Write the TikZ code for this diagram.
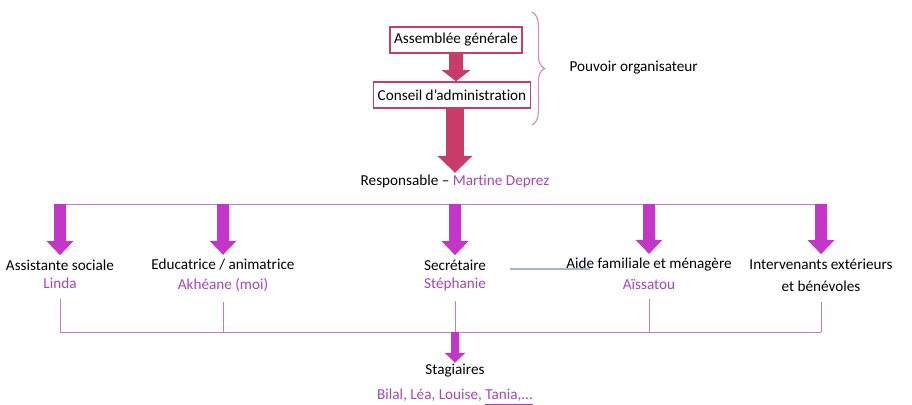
\documentclass[tikz,border=0pt]{standalone}
\usepackage{fontspec}
\setmainfont[Ligatures=NoCommon]{Carlito}
\usepackage{tikz}
\usetikzlibrary{positioning,arrows.meta,decorations.pathreplacing}
\definecolor{rouge}{HTML}{C83C6A}
\definecolor{mauve}{HTML}{C436C8}
\definecolor{violet}{HTML}{A844BC}
\definecolor{trait}{HTML}{C27BC8}
\definecolor{gris}{HTML}{A9B8C8}
\tikzset{
  cadre/.style={draw=rouge, line width=1.2pt, fill=white, inner sep=3pt, minimum height=0.64cm, font=\fontsize{10.8}{13}\selectfont},
  texte/.style={align=center, inner sep=1pt, font=\fontsize{10.8}{13}\selectfont},
  nom/.style={texte, text=violet},
  grosse/.style={rouge, line width=10pt, -{Triangle[length=8pt,width=20pt]}},
  tresgrosse/.style={rouge, line width=12.5pt, -{Triangle[length=12pt,width=24pt]}},
  fleche/.style={mauve, line width=8.5pt, -{Triangle[length=10pt,width=18.5pt]}},
  petite/.style={mauve, line width=5.5pt, -{Triangle[length=7pt,width=14pt]}},
  filet/.style={trait, line width=0.6pt},
}

\begin{document}
\begin{tikzpicture}[x=0.025cm, y=-0.025cm]
  \useasboundingbox (0,0) rectangle (912,404);
  % pouvoir organisateur
  \node[cadre] (ag) at (456,40) {Assemblée générale};
  \node[cadre] (ca) at (452,95) {Conseil d’administration};
  \draw[grosse] (ag.south) -- (ag.south |- ca.north);
  \draw[decorate, decoration={brace, amplitude=9pt}, draw=rouge!60, line width=0.8pt] (532,12) -- coordinate (pointe) (532,125);
  \node[texte, anchor=west] (pouvoir) at (568,68) {Pouvoir organisateur};
  \node[texte] (resp) at (455,181) {Responsable -- \textcolor{violet}{Martine Deprez}};
  \draw[tresgrosse] (resp.north |- ca.south) -- (resp.north);
  % equipe
  \coordinate (g) at (57,204);
  \coordinate (d) at (822,204);
  \draw[filet] (g) -- (d);
  \node[texte] (as)  at (60,265)  {Assistante sociale};
  \node[nom, below=3pt of as] (linda) {Linda};
  \node[texte] (ed)  at (223,265) {Educatrice / animatrice};
  \node[nom, below=3pt of ed] (akh) {Akhéane (moi)};
  \node[texte] (sec) at (455,265) {Secrétaire};
  \node[nom, below=3pt of sec] (steph) {Stéphanie};
  \node[texte] (aide) at (649,265) {Aide familiale et ménagère};
  \node[nom, below=3pt of aide] (aiss) {Aïssatou};
  \node[texte, anchor=north] (int) at (821,257) {Intervenants extérieurs\\[3pt]et bénévoles};
  \draw[gris, line width=1.2pt] (510,269) -- (590,269);
  \foreach \n in {as,ed,sec,aide,int}
    \draw[fleche] (\n.north |- g) -- ([yshift=2pt]\n.north);
  % stagiaires
  \coordinate (bg) at (60,332);
  \coordinate (bd) at (823,332);
  \foreach \n in {linda,akh,steph,aiss,int}
    \draw[filet] ([yshift=-6pt]\n.south) -- (\n.south |- bg);
  \draw[filet] (linda.south |- bg) -- (int.south |- bd);
  \node[texte] (stag) at (455,371) {Stagiaires};
  \draw[petite] (stag.north |- bg) -- (stag.north);
  \node[nom] (noms) at (455,397) {Bilal, Léa, Louise, \underline{Tania,...}};
\end{tikzpicture}
\end{document}
